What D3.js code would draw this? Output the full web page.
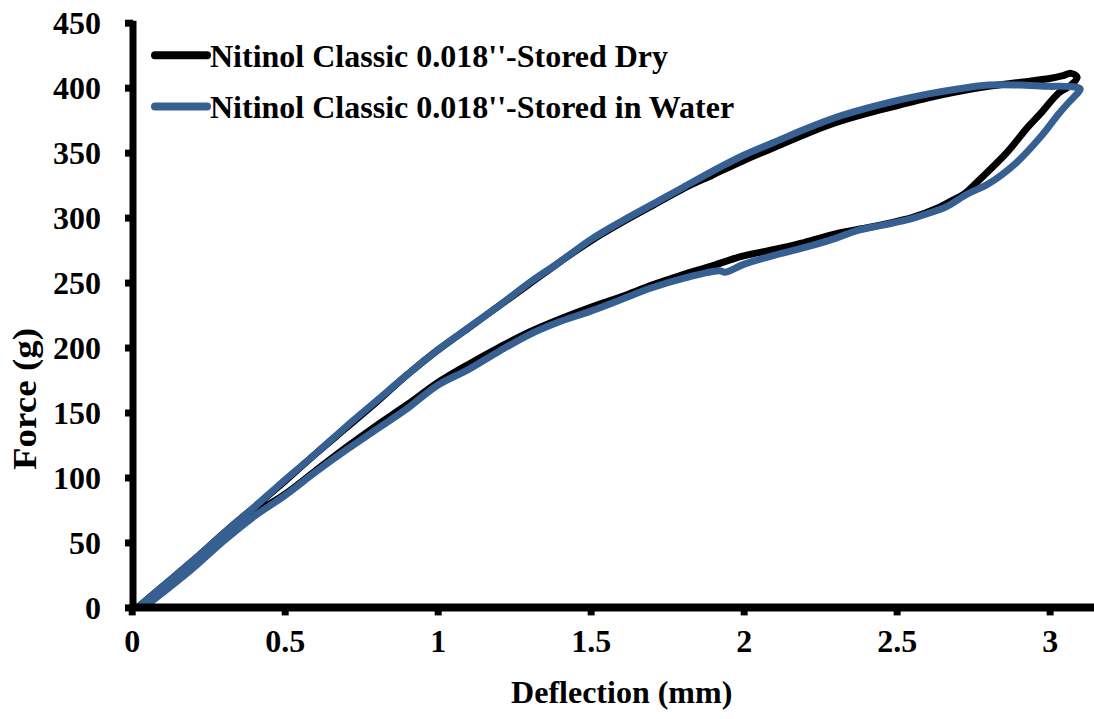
<!DOCTYPE html>
<html><head><meta charset="utf-8">
<script src="https://cdn.jsdelivr.net/npm/d3@7"></script>
<style>body{margin:0;background:#fff}svg{display:block}</style>
</head><body>
<svg id="chart" width="1094" height="719"></svg>
<script>
// ---- data ----
const seriesNames = ["Nitinol Classic 0.018''-Stored Dry", "Nitinol Classic 0.018''-Stored in Water"];
const seriesColors = ["#000000", "#376092"];

// Stored Dry: loading then unloading (deflection mm, force g)
const dryX = [0.02,0.1,0.2,0.3,0.4,0.5,0.6,0.7,0.8,0.9,1.0,1.1,1.2,1.3,1.4,1.5,1.6,1.7,1.8,1.9,2.0,2.1,2.2,2.3,2.4,2.5,2.6,2.7,2.8,2.9,3.0,3.04,3.07,3.09,
  3.07,3.03,2.97,2.93,2.86,2.77,2.72,2.68,2.64,2.55,2.48,2.4,2.31,2.2,2.15,2.05,1.99,1.9,1.8,1.7,1.6,1.5,1.4,1.3,1.2,1.1,1.0,0.9,0.8,0.7,0.6,0.5,0.4,0.3,0.2,0.1,0.04];
const dryY = [0,16,36,57,77,97,118,138,158,179,198,215,232,249,266,282,296,309,322,333,344,354,364,373,380,386,392,397,401,404,407,409,411,408,
  402,396,380,370,350,329,318,313,308,300,296,292,288,281,278,273,270,263,256,248,239,231,222,212,200,187,173,156,140,123,105,87,72,52,31,12,0];

// Stored in Water
const waterX = [0.02,0.1,0.2,0.3,0.4,0.5,0.6,0.7,0.8,0.9,1.0,1.1,1.2,1.3,1.4,1.5,1.6,1.7,1.8,1.9,2.0,2.1,2.2,2.3,2.4,2.5,2.6,2.7,2.8,2.9,3.0,3.05,3.1,
  3.08,3.06,3.03,2.97,2.89,2.8,2.73,2.66,2.6,2.53,2.45,2.37,2.3,2.2,2.1,2.0,1.94,1.92,1.8,1.7,1.6,1.5,1.4,1.3,1.2,1.1,1.0,0.9,0.8,0.7,0.6,0.5,0.4,0.3,0.2,0.1,0.04];
const waterY = [0,16,36,57,77,98,118,139,159,179,198,215,232,250,266,283,297,310,323,336,348,358,368,377,384,390,395,399,402,402,401,401,399,
  393,388,380,362,342,326,318,308,303,298,294,290,284,277,271,264,258,259,253,246,237,228,220,210,197,183,171,153,137,121,104,86,70,51,30,11,0];

const xTickValues = [0,0.5,1,1.5,2,2.5,3];
const xTickLabels = ["0","0.5","1","1.5","2","2.5","3"];
const yTickValues = [0,50,100,150,200,250,300,350,400,450];
const yTickLabels = ["0","50","100","150","200","250","300","350","400","450"];
const xTitle = "Deflection (mm)";
const yTitle = "Force (g)";

// ---- drawing ----
const svg = d3.select("#chart");
const FONT = "'Liberation Serif','Times New Roman',serif";
const x = d3.scaleLinear().domain([0, 3.145]).range([131.7, 1094]);
const y = d3.scaleLinear().domain([0, 450]).range([607.4, 22.7]);

const series = [
  {name: seriesNames[0], color: seriesColors[0], pts: dryX.map((v,i)=>[v, dryY[i]])},
  {name: seriesNames[1], color: seriesColors[1], pts: waterX.map((v,i)=>[v, waterY[i]])}
];

const line = d3.line().x(d=>x(d[0])).y(d=>y(d[1])).curve(d3.curveCatmullRom.alpha(0.5));

series.forEach(s => {
  svg.append("path").attr("d", line(s.pts)).attr("fill","none")
    .attr("stroke", s.color).attr("stroke-width", 7)
    .attr("stroke-linejoin","round").attr("stroke-linecap","round");
});

// axes
const axisW = 7;
const gx = svg.append("g").attr("transform", `translate(0,${y(0)})`)
  .call(d3.axisBottom(x).tickValues(xTickValues).tickFormat((d,i)=>xTickLabels[i]).tickSize(8).tickPadding(30));
gx.select(".domain").remove();
gx.selectAll(".tick line").attr("stroke","#000").attr("stroke-width",axisW);
gx.selectAll(".tick text").attr("font-family",FONT).attr("font-weight","bold").attr("font-size",32).attr("fill","#000").attr("dy","0.2em");

const gy = svg.append("g").attr("transform", `translate(${x(0)+1.3},0)`)
  .call(d3.axisLeft(y).tickValues(yTickValues).tickFormat((d,i)=>yTickLabels[i]).tickSize(8).tickPadding(24));
gy.select(".domain").remove();
gy.selectAll(".tick line").attr("stroke","#000").attr("stroke-width",axisW);
gy.selectAll(".tick text").attr("font-family",FONT).attr("font-weight","bold").attr("font-size",32).attr("fill","#000").attr("dy","0.35em");

svg.append("line").attr("x1", x(0)+1.3).attr("x2", x(0)+1.3).attr("y1", y(450)-2).attr("y2", y(0)+3.5)
  .attr("stroke","#000").attr("stroke-width",axisW);
svg.append("line").attr("x1", x(0)-2).attr("x2", 1094).attr("y1", y(0)).attr("y2", y(0))
  .attr("stroke","#000").attr("stroke-width",axisW+1);

// titles
svg.append("text").attr("x", 621.7).attr("y", 703).attr("text-anchor","middle")
  .attr("font-family",FONT).attr("font-weight","bold").attr("font-size",32).text(xTitle);
svg.append("text").attr("transform","translate(36,470) rotate(-90)").attr("text-anchor","start")
  .attr("textLength",142).attr("lengthAdjust","spacingAndGlyphs")
  .attr("font-family",FONT).attr("font-weight","bold").attr("font-size",33).text(yTitle);

// legend
const legend = svg.append("g");
series.forEach((s,i) => {
  const ly = 55.2 + i*51.3;
  legend.append("line").attr("x1",155).attr("x2",207).attr("y1",ly).attr("y2",ly)
    .attr("stroke",s.color).attr("stroke-width",8).attr("stroke-linecap","round");
  legend.append("text").attr("x",210).attr("y",ly+11.5)
    .attr("font-family",FONT).attr("font-weight","bold").attr("font-size",32).text(s.name);
});
</script>
</body></html>
